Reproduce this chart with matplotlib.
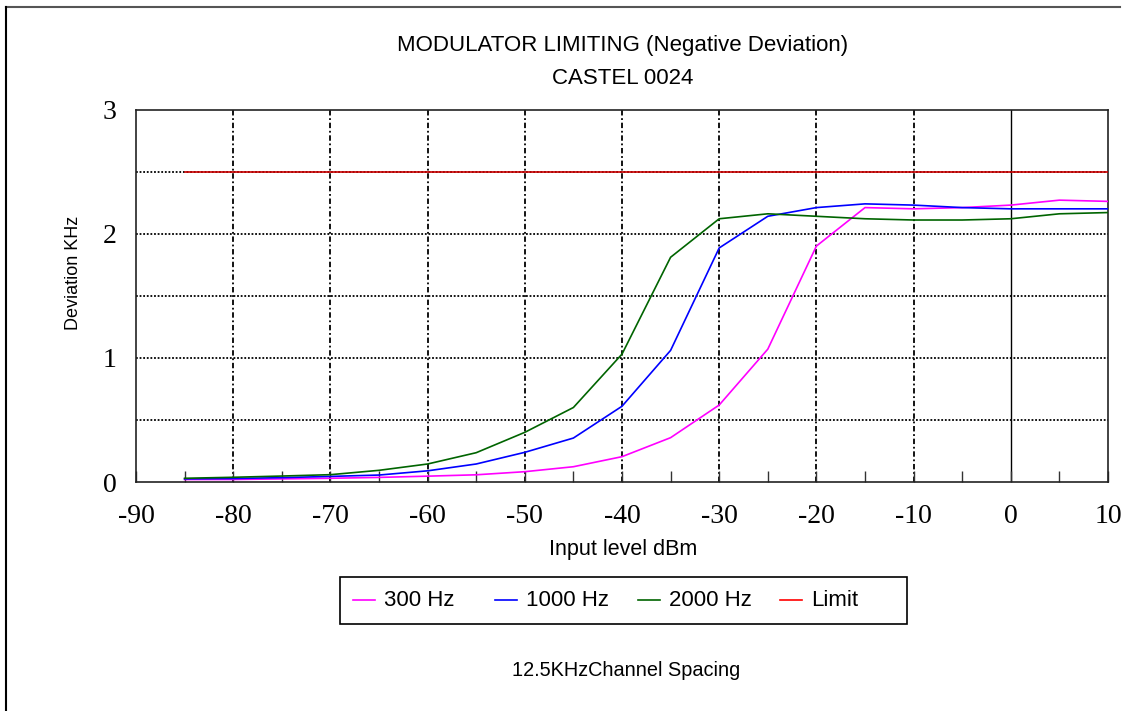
import matplotlib
matplotlib.use("Agg")
import matplotlib.pyplot as plt
from matplotlib.lines import Line2D
from matplotlib.patches import Rectangle
import numpy as np

# ---- data ----
input_dbm = [-85, -80, -75, -70, -65, -60, -55, -50, -45, -40, -35, -30, -25, -20, -15, -10, -5, 0, 5, 10]
dev_300 = [0.02, 0.02, 0.025, 0.03, 0.037, 0.047, 0.058, 0.083, 0.123, 0.204, 0.357, 0.62, 1.07, 1.90, 2.21, 2.20, 2.21, 2.23, 2.27, 2.26]
dev_1000 = [0.025, 0.028, 0.035, 0.045, 0.056, 0.09, 0.145, 0.239, 0.354, 0.61, 1.06, 1.885, 2.14, 2.21, 2.24, 2.23, 2.21, 2.20, 2.20, 2.20]
dev_2000 = [0.03, 0.038, 0.048, 0.059, 0.094, 0.145, 0.236, 0.40, 0.60, 1.03, 1.81, 2.12, 2.16, 2.14, 2.12, 2.11, 2.11, 2.12, 2.16, 2.17]
limit = [2.5] * len(input_dbm)
series_labels = ["300 Hz", "1000 Hz", "2000 Hz", "Limit"]
x_ticks = [-90, -80, -70, -60, -50, -40, -30, -20, -10, 0, 10]
y_ticks = [0, 1, 2, 3]

W, H = 1125, 711
fig = plt.figure(figsize=(W / 100, H / 100), dpi=100)
fig.patch.set_facecolor("white")


def fx(px):
    return px / W


def fy(py):
    return 1 - py / H


# figure border (top and left only, as in reference)
fig.add_artist(Line2D([fx(6), fx(1120)], [fy(7), fy(7)], color="#555555", lw=1.5, transform=fig.transFigure))
fig.add_artist(Line2D([fx(6), fx(6)], [fy(7), 0], color="#000000", lw=1.5, transform=fig.transFigure))

left, right, top, bottom = 136, 1108, 109.5, 482
ax = fig.add_axes([fx(left), fy(bottom), (right - left) / W, (bottom - top) / H])

line_colors = ["#ff00ff", "#0000ff", "#006400", "#cc0000"]
legend_colors = ["#ff00ff", "#0000ff", "#006400", "#ff0000"]
ys = [dev_300, dev_1000, dev_2000, limit]
for yv, c, lab in zip(ys, line_colors, series_labels):
    ax.plot(input_dbm, yv, color=c, lw=1.2, label=lab, zorder=3)

ax.set_xlim(-90, 10)
ax.set_ylim(0, 3)

# grid
for xv in range(-80, 10, 10):
    ls = "-" if xv == 0 else (0, (3, 1.5, 1, 1.5))
    ax.axvline(xv, color="black", lw=1.3 if xv != 0 else 1.0, ls=ls, zorder=1)
for yv in np.arange(0.5, 3.0, 0.5):
    ax.axhline(yv, color="black", lw=1.3, ls=(0, (1, 1)), zorder=1)

ax.set_xticks(x_ticks)
ax.set_xticklabels([str(v) for v in x_ticks])
ax.set_xticks(list(range(-85, 10, 10)), minor=True)
ax.set_yticks(y_ticks)
ax.set_yticklabels([str(v) for v in y_ticks])
ax.tick_params(axis="x", which="both", direction="in", length=8, width=1, color="#333333")
ax.tick_params(axis="x", which="major", pad=15.5)
ax.tick_params(axis="y", length=0, pad=14)
for lbl in ax.get_xticklabels() + ax.get_yticklabels():
    lbl.set_fontfamily("Liberation Serif")
    lbl.set_fontsize(20)
for sp in ax.spines.values():
    sp.set_color("#222222")
    sp.set_linewidth(1.2)

sans = "Liberation Sans"
fig.text(fx(623), fy(46), "MODULATOR LIMITING (Negative Deviation)", ha="center", va="center", fontsize=16, family=sans)
fig.text(fx(623), fy(78), "CASTEL 0024", ha="center", va="center", fontsize=16, family=sans)
fig.text(fx(74), fy(273), "Deviation KHz", ha="center", va="center", rotation=90, fontsize=13, family=sans)
fig.text(fx(623), fy(550), "Input level dBm", ha="center", va="center", fontsize=15.5, family=sans)
fig.text(fx(626), fy(670), "12.5KHzChannel Spacing", ha="center", va="center", fontsize=14.3, family=sans)

# legend box with equal-width entries (as in the reference)
fig.add_artist(Rectangle((fx(340), fy(624)), (907 - 340) / W, (624 - 577) / H, transform=fig.transFigure,
                         facecolor="white", edgecolor="black", lw=1.2))
for i, (lab, c) in enumerate(zip(series_labels, legend_colors)):
    x0 = 353 + i * 142.3
    fig.add_artist(Line2D([fx(x0), fx(x0 + 22)], [fy(600), fy(600)], color=c, lw=1.2, transform=fig.transFigure))
    fig.text(fx(x0 + 31), fy(600), lab, ha="left", va="center", fontsize=16, family=sans)

fig.savefig("out.png", dpi=100)
